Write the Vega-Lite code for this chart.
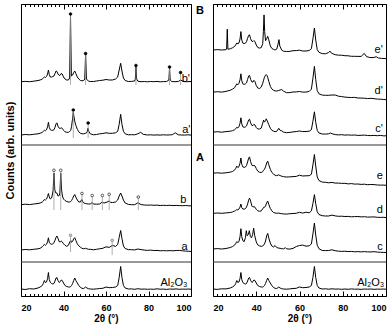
{
"$schema": "https://vega.github.io/schema/vega-lite/v6.json",
"padding": {"left": 3, "top": 3, "right": 4, "bottom": 4},
"bounds": "flush",
"spacing": 22,
"config": {"view": {"stroke": "#000", "strokeWidth": 1}, "font": "Liberation Sans", "axis": {"minExtent": 0, "domain": false, "grid": false, "tickColor": "#000", "labelColor": "#000", "titleColor": "#000"}},
"datasets": {
"L": [
{"s":"Al","x":20,"y":7},{"s":"Al","x":22,"y":6.5},{"s":"Al","x":24,"y":7.3},{"s":"Al","x":26,"y":7},{"s":"Al","x":28,"y":8},{"s":"Al","x":29,"y":9},{"s":"Al","x":30,"y":10.5},{"s":"Al","x":30.5,"y":12.5},{"s":"Al","x":31,"y":15.5},{"s":"Al","x":31.5,"y":13.5},{"s":"Al","x":32,"y":14},{"s":"Al","x":32.5,"y":17.5},{"s":"Al","x":32.9,"y":23.5},{"s":"Al","x":33.3,"y":16.5},{"s":"Al","x":33.8,"y":13.5},{"s":"Al","x":34.4,"y":12.5},{"s":"Al","x":35,"y":12},{"s":"Al","x":35.5,"y":12.5},{"s":"Al","x":36,"y":15},{"s":"Al","x":36.5,"y":18},{"s":"Al","x":36.9,"y":18.5},{"s":"Al","x":37.4,"y":15.5},{"s":"Al","x":38,"y":13.5},{"s":"Al","x":38.5,"y":14.5},{"s":"Al","x":38.9,"y":16},{"s":"Al","x":39.4,"y":15.5},{"s":"Al","x":40,"y":13},{"s":"Al","x":40.7,"y":10.5},{"s":"Al","x":41.5,"y":9.5},{"s":"Al","x":42.3,"y":9},{"s":"Al","x":43,"y":9},{"s":"Al","x":43.4,"y":9.5},{"s":"Al","x":43.8,"y":10.5},{"s":"Al","x":44.3,"y":12.5},{"s":"Al","x":44.8,"y":15.5},{"s":"Al","x":45.3,"y":18},{"s":"Al","x":45.8,"y":15.5},{"s":"Al","x":46.5,"y":13},{"s":"Al","x":47.2,"y":10.5},{"s":"Al","x":48,"y":8.5},{"s":"Al","x":48.7,"y":7.7},{"s":"Al","x":49.5,"y":7.5},{"s":"Al","x":50.4,"y":9},{"s":"Al","x":51,"y":8},{"s":"Al","x":51.8,"y":7.3},{"s":"Al","x":52.6,"y":7},{"s":"Al","x":54,"y":6.8},{"s":"Al","x":55.5,"y":7.1},{"s":"Al","x":57,"y":7.5},{"s":"Al","x":58.5,"y":7.7},{"s":"Al","x":60,"y":9},{"s":"Al","x":61.5,"y":8.3},{"s":"Al","x":63,"y":8.5},{"s":"Al","x":64.5,"y":9},{"s":"Al","x":65.5,"y":10.5},{"s":"Al","x":66.2,"y":18.5},{"s":"Al","x":66.9,"y":29.5},{"s":"Al","x":67.5,"y":18.5},{"s":"Al","x":68.2,"y":10.5},{"s":"Al","x":69,"y":8},{"s":"Al","x":70.5,"y":7},{"s":"Al","x":72,"y":7.1},{"s":"Al","x":73.5,"y":6.7},{"s":"Al","x":75,"y":7.3},{"s":"Al","x":76.5,"y":6.8},{"s":"Al","x":78,"y":7},{"s":"Al","x":79.5,"y":6.7},{"s":"Al","x":81,"y":6.9},{"s":"Al","x":82.5,"y":6.7},{"s":"Al","x":84,"y":7.2},{"s":"Al","x":85.5,"y":6.8},{"s":"Al","x":87,"y":6.9},{"s":"Al","x":88.5,"y":6.6},{"s":"Al","x":90,"y":7},{"s":"Al","x":91.5,"y":6.8},{"s":"Al","x":93,"y":7.1},{"s":"Al","x":94.5,"y":6.7},{"s":"Al","x":96,"y":6.9},{"s":"Al","x":97.5,"y":6.8},{"s":"Al","x":99,"y":7},{"s":"Al","x":100,"y":6.7},
{"s":"a","x":20,"y":46},{"s":"a","x":22,"y":46.5},{"s":"a","x":24,"y":46.2},{"s":"a","x":26,"y":46.7},{"s":"a","x":28,"y":47.2},{"s":"a","x":29,"y":47.7},{"s":"a","x":30,"y":49.2},{"s":"a","x":30.5,"y":50.2},{"s":"a","x":31,"y":51.7},{"s":"a","x":31.5,"y":50.7},{"s":"a","x":32,"y":51.7},{"s":"a","x":32.5,"y":54.2},{"s":"a","x":32.9,"y":58.2},{"s":"a","x":33.3,"y":53.7},{"s":"a","x":33.8,"y":52.2},{"s":"a","x":34.4,"y":51.7},{"s":"a","x":35,"y":52.2},{"s":"a","x":35.5,"y":53.2},{"s":"a","x":36,"y":55.7},{"s":"a","x":36.5,"y":58.7},{"s":"a","x":36.9,"y":60},{"s":"a","x":37.4,"y":57.7},{"s":"a","x":38,"y":54.2},{"s":"a","x":38.5,"y":54.2},{"s":"a","x":38.9,"y":55},{"s":"a","x":39.4,"y":54.2},{"s":"a","x":40,"y":52.2},{"s":"a","x":40.7,"y":50.7},{"s":"a","x":41.5,"y":49.7},{"s":"a","x":42.3,"y":50.7},{"s":"a","x":43,"y":54.2},{"s":"a","x":43.4,"y":55.7},{"s":"a","x":43.8,"y":53.7},{"s":"a","x":44.3,"y":54.7},{"s":"a","x":44.8,"y":57.2},{"s":"a","x":45.3,"y":58.3},{"s":"a","x":45.8,"y":55.7},{"s":"a","x":46.5,"y":52.2},{"s":"a","x":47.2,"y":50.2},{"s":"a","x":48,"y":48.7},{"s":"a","x":48.7,"y":47.7},{"s":"a","x":49.5,"y":47.2},{"s":"a","x":50.4,"y":47.7},{"s":"a","x":51,"y":47.2},{"s":"a","x":51.8,"y":46.7},{"s":"a","x":52.6,"y":46.7},{"s":"a","x":54,"y":46.2},{"s":"a","x":55.5,"y":46.7},{"s":"a","x":57,"y":47.2},{"s":"a","x":58.5,"y":47.7},{"s":"a","x":60,"y":49.2},{"s":"a","x":61.5,"y":48.6},{"s":"a","x":63,"y":50.6},{"s":"a","x":64.5,"y":49.6},{"s":"a","x":65.5,"y":51.5},{"s":"a","x":66.2,"y":58.5},{"s":"a","x":66.9,"y":65.5},{"s":"a","x":67.5,"y":57.5},{"s":"a","x":68.2,"y":50},{"s":"a","x":69,"y":47.5},{"s":"a","x":70.5,"y":46.4},{"s":"a","x":72,"y":46.3},{"s":"a","x":73.5,"y":46.1},{"s":"a","x":75,"y":47},{"s":"a","x":76.5,"y":46.4},{"s":"a","x":78,"y":45.9},{"s":"a","x":79.5,"y":45.6},{"s":"a","x":81,"y":45.9},{"s":"a","x":82.5,"y":45.5},{"s":"a","x":84,"y":45.6},{"s":"a","x":85.5,"y":45.2},{"s":"a","x":87,"y":45.4},{"s":"a","x":88.5,"y":45.2},{"s":"a","x":90,"y":45.4},{"s":"a","x":91.5,"y":45.2},{"s":"a","x":93,"y":45.5},{"s":"a","x":94.5,"y":45.6},{"s":"a","x":96,"y":45.2},{"s":"a","x":97.5,"y":44.9},{"s":"a","x":99,"y":44.7},{"s":"a","x":100,"y":44.6},
{"s":"b","x":20,"y":91.3},{"s":"b","x":22,"y":91.8},{"s":"b","x":24,"y":91.4},{"s":"b","x":26,"y":92},{"s":"b","x":28,"y":92.5},{"s":"b","x":29,"y":93},{"s":"b","x":30,"y":94},{"s":"b","x":30.5,"y":95},{"s":"b","x":31,"y":96.5},{"s":"b","x":31.5,"y":96},{"s":"b","x":32,"y":97},{"s":"b","x":32.5,"y":99.5},{"s":"b","x":32.9,"y":102.5},{"s":"b","x":33.3,"y":99},{"s":"b","x":33.8,"y":97},{"s":"b","x":34.4,"y":98},{"s":"b","x":35.1,"y":105},{"s":"b","x":35.5,"y":123},{"s":"b","x":35.9,"y":106},{"s":"b","x":36.4,"y":103},{"s":"b","x":36.9,"y":103},{"s":"b","x":37.4,"y":100},{"s":"b","x":38,"y":100.5},{"s":"b","x":38.3,"y":103},{"s":"b","x":38.7,"y":123},{"s":"b","x":39.1,"y":106},{"s":"b","x":39.5,"y":100},{"s":"b","x":40,"y":97},{"s":"b","x":40.7,"y":95.5},{"s":"b","x":41.5,"y":94.5},{"s":"b","x":42.3,"y":94},{"s":"b","x":43,"y":94},{"s":"b","x":43.4,"y":94.5},{"s":"b","x":43.8,"y":95.5},{"s":"b","x":44.3,"y":97.5},{"s":"b","x":44.8,"y":100},{"s":"b","x":45.3,"y":101.5},{"s":"b","x":45.8,"y":99},{"s":"b","x":46.5,"y":96},{"s":"b","x":47.2,"y":94},{"s":"b","x":48,"y":94},{"s":"b","x":48.4,"y":96},{"s":"b","x":48.7,"y":96.5},{"s":"b","x":49.1,"y":94},{"s":"b","x":49.5,"y":93},{"s":"b","x":50.4,"y":92.5},{"s":"b","x":51,"y":92.2},{"s":"b","x":51.8,"y":92},{"s":"b","x":52.6,"y":92},{"s":"b","x":53.5,"y":93.5},{"s":"b","x":54,"y":92},{"s":"b","x":55.5,"y":91.8},{"s":"b","x":57,"y":92},{"s":"b","x":58.3,"y":94},{"s":"b","x":59,"y":93},{"s":"b","x":60,"y":93.5},{"s":"b","x":61.5,"y":95},{"s":"b","x":62.3,"y":93.5},{"s":"b","x":63,"y":93.5},{"s":"b","x":64.5,"y":94},{"s":"b","x":65.5,"y":96},{"s":"b","x":66.2,"y":100},{"s":"b","x":66.9,"y":103},{"s":"b","x":67.5,"y":100},{"s":"b","x":68.2,"y":96},{"s":"b","x":69,"y":93},{"s":"b","x":70.5,"y":91.6},{"s":"b","x":72,"y":91.3},{"s":"b","x":73.5,"y":91.3},{"s":"b","x":75,"y":93.2},{"s":"b","x":76.5,"y":91.4},{"s":"b","x":78,"y":91},{"s":"b","x":79.5,"y":90.8},{"s":"b","x":81,"y":91},{"s":"b","x":82.5,"y":90.7},{"s":"b","x":84,"y":90.9},{"s":"b","x":85.5,"y":90.5},{"s":"b","x":87,"y":90.7},{"s":"b","x":88.5,"y":90.5},{"s":"b","x":90,"y":90.7},{"s":"b","x":91.5,"y":90.4},{"s":"b","x":93,"y":90.6},{"s":"b","x":94.5,"y":90.4},{"s":"b","x":96,"y":90.3},{"s":"b","x":97.5,"y":90.5},{"s":"b","x":99,"y":90.2},{"s":"b","x":100,"y":90.1},
{"s":"a1","x":20,"y":161},{"s":"a1","x":22,"y":161.5},{"s":"a1","x":24,"y":161.2},{"s":"a1","x":26,"y":161.7},{"s":"a1","x":28,"y":162.2},{"s":"a1","x":29,"y":162.7},{"s":"a1","x":30,"y":163.7},{"s":"a1","x":30.5,"y":164.7},{"s":"a1","x":31,"y":165.7},{"s":"a1","x":31.5,"y":165.2},{"s":"a1","x":32,"y":166.2},{"s":"a1","x":32.5,"y":169.2},{"s":"a1","x":32.9,"y":173.7},{"s":"a1","x":33.3,"y":168.7},{"s":"a1","x":33.8,"y":166.2},{"s":"a1","x":34.4,"y":165.7},{"s":"a1","x":35,"y":165.7},{"s":"a1","x":35.5,"y":166.2},{"s":"a1","x":36,"y":168.7},{"s":"a1","x":36.5,"y":172.2},{"s":"a1","x":36.9,"y":173.2},{"s":"a1","x":37.4,"y":169.7},{"s":"a1","x":38,"y":167.7},{"s":"a1","x":38.5,"y":167.7},{"s":"a1","x":38.9,"y":168.2},{"s":"a1","x":39.4,"y":167.7},{"s":"a1","x":40,"y":165.7},{"s":"a1","x":40.7,"y":164.2},{"s":"a1","x":41.5,"y":163.7},{"s":"a1","x":42.3,"y":163.7},{"s":"a1","x":43,"y":164.7},{"s":"a1","x":43.4,"y":165.7},{"s":"a1","x":43.8,"y":169.7},{"s":"a1","x":44.3,"y":177.7},{"s":"a1","x":44.6,"y":183.7},{"s":"a1","x":44.9,"y":179.7},{"s":"a1","x":45.3,"y":174.7},{"s":"a1","x":45.8,"y":170.7},{"s":"a1","x":46.5,"y":166.7},{"s":"a1","x":47.2,"y":164.2},{"s":"a1","x":48,"y":162.7},{"s":"a1","x":48.7,"y":162.2},{"s":"a1","x":49.5,"y":162.2},{"s":"a1","x":50.4,"y":162.7},{"s":"a1","x":51.1,"y":163.7},{"s":"a1","x":51.5,"y":167.7},{"s":"a1","x":51.9,"y":164.7},{"s":"a1","x":52.6,"y":162.2},{"s":"a1","x":54,"y":161.2},{"s":"a1","x":55.5,"y":161.5},{"s":"a1","x":57,"y":162.2},{"s":"a1","x":58.5,"y":162.5},{"s":"a1","x":60,"y":163.2},{"s":"a1","x":61.5,"y":162.7},{"s":"a1","x":63,"y":162.7},{"s":"a1","x":64.5,"y":163.2},{"s":"a1","x":65.5,"y":164.7},{"s":"a1","x":66.2,"y":171.7},{"s":"a1","x":66.9,"y":181.7},{"s":"a1","x":67.5,"y":171.7},{"s":"a1","x":68.2,"y":164.7},{"s":"a1","x":69,"y":162.2},{"s":"a1","x":70.5,"y":161.2},{"s":"a1","x":72,"y":161.3},{"s":"a1","x":73.5,"y":161.2},{"s":"a1","x":75,"y":162.2},{"s":"a1","x":76.3,"y":163.7},{"s":"a1","x":77.5,"y":161.7},{"s":"a1","x":79.5,"y":161},{"s":"a1","x":81,"y":161.2},{"s":"a1","x":82.5,"y":160.9},{"s":"a1","x":84,"y":161.1},{"s":"a1","x":85.5,"y":160.9},{"s":"a1","x":87,"y":161.2},{"s":"a1","x":88.5,"y":161},{"s":"a1","x":90,"y":161.1},{"s":"a1","x":91.2,"y":161.3},{"s":"a1","x":92.6,"y":163.2},{"s":"a1","x":94,"y":161.2},{"s":"a1","x":95.5,"y":161},{"s":"a1","x":97,"y":160.9},{"s":"a1","x":98.5,"y":161.2},{"s":"a1","x":100,"y":160.9},
{"s":"b1","x":20,"y":214.3},{"s":"b1","x":22,"y":214.6},{"s":"b1","x":24,"y":214.3},{"s":"b1","x":26,"y":214.8},{"s":"b1","x":28,"y":215.5},{"s":"b1","x":29,"y":216},{"s":"b1","x":30,"y":217},{"s":"b1","x":30.5,"y":218},{"s":"b1","x":31,"y":219},{"s":"b1","x":31.5,"y":218.5},{"s":"b1","x":32,"y":219.5},{"s":"b1","x":32.5,"y":222},{"s":"b1","x":32.9,"y":226},{"s":"b1","x":33.3,"y":221.5},{"s":"b1","x":33.8,"y":219},{"s":"b1","x":34.4,"y":219},{"s":"b1","x":35,"y":219.5},{"s":"b1","x":35.5,"y":220},{"s":"b1","x":36,"y":222.5},{"s":"b1","x":36.5,"y":225},{"s":"b1","x":36.9,"y":224.5},{"s":"b1","x":37.4,"y":222},{"s":"b1","x":38,"y":220.5},{"s":"b1","x":38.5,"y":221},{"s":"b1","x":38.9,"y":222.5},{"s":"b1","x":39.4,"y":222},{"s":"b1","x":40,"y":219},{"s":"b1","x":40.7,"y":217},{"s":"b1","x":41.5,"y":216},{"s":"b1","x":42.3,"y":216},{"s":"b1","x":42.9,"y":218},{"s":"b1","x":43.3,"y":281},{"s":"b1","x":43.7,"y":220},{"s":"b1","x":44.3,"y":221},{"s":"b1","x":44.8,"y":223.5},{"s":"b1","x":45.3,"y":225},{"s":"b1","x":45.8,"y":222.5},{"s":"b1","x":46.5,"y":219},{"s":"b1","x":47.2,"y":217},{"s":"b1","x":48,"y":215.5},{"s":"b1","x":48.7,"y":215.2},{"s":"b1","x":49.5,"y":215.5},{"s":"b1","x":50,"y":217},{"s":"b1","x":50.4,"y":241.7},{"s":"b1","x":50.8,"y":217},{"s":"b1","x":51.8,"y":214.8},{"s":"b1","x":52.6,"y":214.5},{"s":"b1","x":54,"y":214.5},{"s":"b1","x":55.5,"y":215},{"s":"b1","x":57,"y":215.5},{"s":"b1","x":58.5,"y":215.8},{"s":"b1","x":60,"y":216.5},{"s":"b1","x":61.5,"y":216},{"s":"b1","x":63,"y":216},{"s":"b1","x":64.5,"y":217},{"s":"b1","x":65.5,"y":219},{"s":"b1","x":66.2,"y":226},{"s":"b1","x":66.9,"y":232.7},{"s":"b1","x":67.5,"y":225},{"s":"b1","x":68.2,"y":218},{"s":"b1","x":69,"y":215.5},{"s":"b1","x":70.5,"y":214.5},{"s":"b1","x":72,"y":214.6},{"s":"b1","x":73.5,"y":215},{"s":"b1","x":73.8,"y":217},{"s":"b1","x":74.1,"y":229.7},{"s":"b1","x":74.4,"y":217},{"s":"b1","x":75,"y":214.8},{"s":"b1","x":76.5,"y":214.3},{"s":"b1","x":78,"y":214.5},{"s":"b1","x":79.5,"y":214.2},{"s":"b1","x":81,"y":214.5},{"s":"b1","x":82.5,"y":214.3},{"s":"b1","x":84,"y":214.6},{"s":"b1","x":85.5,"y":214.2},{"s":"b1","x":87,"y":214.4},{"s":"b1","x":88.5,"y":214.5},{"s":"b1","x":89.6,"y":216},{"s":"b1","x":89.9,"y":228.3},{"s":"b1","x":90.2,"y":216},{"s":"b1","x":91,"y":214.4},{"s":"b1","x":92.5,"y":214.3},{"s":"b1","x":94,"y":214.5},{"s":"b1","x":95.1,"y":216},{"s":"b1","x":96.5,"y":214.4},{"s":"b1","x":98,"y":214.3},{"s":"b1","x":100,"y":214.5}
],
"R": [
{"s":"Al","x":20,"y":7},{"s":"Al","x":22,"y":6.6},{"s":"Al","x":24,"y":7.2},{"s":"Al","x":26,"y":7.1},{"s":"Al","x":28,"y":8},{"s":"Al","x":29,"y":9},{"s":"Al","x":30,"y":10.5},{"s":"Al","x":30.5,"y":12.5},{"s":"Al","x":31,"y":15.5},{"s":"Al","x":31.5,"y":13.5},{"s":"Al","x":32,"y":14},{"s":"Al","x":32.5,"y":17.5},{"s":"Al","x":32.9,"y":23.5},{"s":"Al","x":33.3,"y":16.5},{"s":"Al","x":33.8,"y":13.5},{"s":"Al","x":34.4,"y":12.5},{"s":"Al","x":35,"y":12},{"s":"Al","x":35.5,"y":12.5},{"s":"Al","x":36,"y":15},{"s":"Al","x":36.5,"y":18},{"s":"Al","x":36.9,"y":18.5},{"s":"Al","x":37.4,"y":15.5},{"s":"Al","x":38,"y":13.5},{"s":"Al","x":38.5,"y":14.5},{"s":"Al","x":38.9,"y":16},{"s":"Al","x":39.4,"y":15.5},{"s":"Al","x":40,"y":13},{"s":"Al","x":40.7,"y":10.5},{"s":"Al","x":41.5,"y":9.5},{"s":"Al","x":42.3,"y":9},{"s":"Al","x":43,"y":9},{"s":"Al","x":43.4,"y":9.5},{"s":"Al","x":43.8,"y":10.5},{"s":"Al","x":44.3,"y":12.5},{"s":"Al","x":44.8,"y":15.5},{"s":"Al","x":45.3,"y":18},{"s":"Al","x":45.8,"y":15.5},{"s":"Al","x":46.5,"y":13},{"s":"Al","x":47.2,"y":10.5},{"s":"Al","x":48,"y":8.5},{"s":"Al","x":48.7,"y":7.7},{"s":"Al","x":49.5,"y":7.5},{"s":"Al","x":50.4,"y":9},{"s":"Al","x":51,"y":8},{"s":"Al","x":51.8,"y":7.3},{"s":"Al","x":52.6,"y":7},{"s":"Al","x":54,"y":6.8},{"s":"Al","x":55.5,"y":7.1},{"s":"Al","x":57,"y":7.5},{"s":"Al","x":58.5,"y":7.7},{"s":"Al","x":60,"y":9},{"s":"Al","x":61.5,"y":8.3},{"s":"Al","x":63,"y":8.5},{"s":"Al","x":64.5,"y":9},{"s":"Al","x":65.5,"y":10.5},{"s":"Al","x":66.2,"y":18.5},{"s":"Al","x":66.9,"y":29.5},{"s":"Al","x":67.5,"y":18.5},{"s":"Al","x":68.2,"y":10.5},{"s":"Al","x":69,"y":8},{"s":"Al","x":70.5,"y":7},{"s":"Al","x":72,"y":7.2},{"s":"Al","x":73.5,"y":6.8},{"s":"Al","x":75,"y":7.2},{"s":"Al","x":76.5,"y":6.9},{"s":"Al","x":78,"y":7},{"s":"Al","x":79.5,"y":6.7},{"s":"Al","x":81,"y":7},{"s":"Al","x":82.5,"y":6.7},{"s":"Al","x":84,"y":7.1},{"s":"Al","x":85.5,"y":6.8},{"s":"Al","x":87,"y":6.9},{"s":"Al","x":88.5,"y":6.6},{"s":"Al","x":90,"y":7},{"s":"Al","x":91.5,"y":6.8},{"s":"Al","x":93,"y":7},{"s":"Al","x":94.5,"y":6.7},{"s":"Al","x":96,"y":6.9},{"s":"Al","x":97.5,"y":6.8},{"s":"Al","x":99,"y":7},{"s":"Al","x":100,"y":6.7},
{"s":"c","x":20,"y":47},{"s":"c","x":22,"y":47.4},{"s":"c","x":24,"y":47},{"s":"c","x":26,"y":47.5},{"s":"c","x":28,"y":48.5},{"s":"c","x":29,"y":49.4},{"s":"c","x":30,"y":50.9},{"s":"c","x":30.5,"y":52.4},{"s":"c","x":31,"y":54.4},{"s":"c","x":31.5,"y":53.4},{"s":"c","x":32,"y":54.4},{"s":"c","x":32.5,"y":59.3},{"s":"c","x":32.9,"y":67.3},{"s":"c","x":33.3,"y":59.3},{"s":"c","x":33.8,"y":55.3},{"s":"c","x":34.4,"y":54.3},{"s":"c","x":35,"y":58.3},{"s":"c","x":35.4,"y":65.3},{"s":"c","x":35.8,"y":60.3},{"s":"c","x":36.3,"y":61.3},{"s":"c","x":36.8,"y":65.3},{"s":"c","x":37.3,"y":59.3},{"s":"c","x":37.8,"y":58.2},{"s":"c","x":38.3,"y":61.2},{"s":"c","x":38.8,"y":67.8},{"s":"c","x":39.3,"y":60.2},{"s":"c","x":40,"y":54.1},{"s":"c","x":40.7,"y":51.1},{"s":"c","x":41.5,"y":50.1},{"s":"c","x":42.3,"y":49.6},{"s":"c","x":43,"y":50},{"s":"c","x":43.4,"y":51},{"s":"c","x":43.8,"y":52},{"s":"c","x":44.3,"y":55},{"s":"c","x":44.8,"y":60},{"s":"c","x":45.3,"y":62.6},{"s":"c","x":45.8,"y":58},{"s":"c","x":46.5,"y":53},{"s":"c","x":47.2,"y":50},{"s":"c","x":48,"y":49},{"s":"c","x":48.7,"y":50.5},{"s":"c","x":49.5,"y":48.4},{"s":"c","x":50.4,"y":47.9},{"s":"c","x":51,"y":47.7},{"s":"c","x":51.8,"y":47.3},{"s":"c","x":52.6,"y":47.1},{"s":"c","x":53.5,"y":48.3},{"s":"c","x":54,"y":47.2},{"s":"c","x":55.5,"y":46.9},{"s":"c","x":57,"y":47.6},{"s":"c","x":58.5,"y":49.5},{"s":"c","x":60,"y":50.5},{"s":"c","x":61.5,"y":50.9},{"s":"c","x":63,"y":49.8},{"s":"c","x":64.5,"y":50.2},{"s":"c","x":65.5,"y":52},{"s":"c","x":66.2,"y":62},{"s":"c","x":66.9,"y":73},{"s":"c","x":67.5,"y":60.9},{"s":"c","x":68.2,"y":50.8},{"s":"c","x":69,"y":47.3},{"s":"c","x":70.5,"y":45.5},{"s":"c","x":72,"y":45.4},{"s":"c","x":73.5,"y":45.5},{"s":"c","x":75,"y":46.2},{"s":"c","x":76.5,"y":45.3},{"s":"c","x":78,"y":44.8},{"s":"c","x":79.5,"y":44.6},{"s":"c","x":81,"y":44.8},{"s":"c","x":82.5,"y":44.4},{"s":"c","x":84,"y":44.6},{"s":"c","x":85.5,"y":44.2},{"s":"c","x":87,"y":44.4},{"s":"c","x":88.5,"y":44.1},{"s":"c","x":90,"y":44.4},{"s":"c","x":91.5,"y":44.1},{"s":"c","x":93,"y":44.1},{"s":"c","x":94.5,"y":44.3},{"s":"c","x":96,"y":43.9},{"s":"c","x":97.5,"y":43.7},{"s":"c","x":99,"y":43.6},{"s":"c","x":100,"y":43.5},
{"s":"d","x":20,"y":82.6},{"s":"d","x":22,"y":83},{"s":"d","x":24,"y":82.7},{"s":"d","x":26,"y":83.1},{"s":"d","x":28,"y":83.5},{"s":"d","x":29,"y":84},{"s":"d","x":30,"y":85},{"s":"d","x":30.5,"y":85.5},{"s":"d","x":31,"y":86.5},{"s":"d","x":31.5,"y":86},{"s":"d","x":32,"y":87},{"s":"d","x":32.5,"y":88.9},{"s":"d","x":32.9,"y":91.9},{"s":"d","x":33.3,"y":88.4},{"s":"d","x":33.8,"y":86.9},{"s":"d","x":34.4,"y":86.9},{"s":"d","x":35,"y":87.4},{"s":"d","x":35.5,"y":88.9},{"s":"d","x":36,"y":91.9},{"s":"d","x":36.5,"y":95.9},{"s":"d","x":36.9,"y":97.9},{"s":"d","x":37.4,"y":94.9},{"s":"d","x":38,"y":89.9},{"s":"d","x":38.5,"y":88.8},{"s":"d","x":38.9,"y":89.5},{"s":"d","x":39.4,"y":88.8},{"s":"d","x":40,"y":86.7},{"s":"d","x":40.7,"y":85.2},{"s":"d","x":41.5,"y":84.7},{"s":"d","x":42.3,"y":85.1},{"s":"d","x":43,"y":87.1},{"s":"d","x":43.4,"y":88.6},{"s":"d","x":43.8,"y":88.6},{"s":"d","x":44.3,"y":90.1},{"s":"d","x":44.8,"y":93.1},{"s":"d","x":45.3,"y":95},{"s":"d","x":45.8,"y":91.6},{"s":"d","x":46.5,"y":87.6},{"s":"d","x":47.2,"y":85.1},{"s":"d","x":48,"y":83.5},{"s":"d","x":48.7,"y":83},{"s":"d","x":49.5,"y":82.7},{"s":"d","x":50.4,"y":83},{"s":"d","x":51,"y":82.5},{"s":"d","x":51.8,"y":82.3},{"s":"d","x":52.6,"y":82.1},{"s":"d","x":54,"y":81.9},{"s":"d","x":55.5,"y":82.3},{"s":"d","x":57,"y":82.5},{"s":"d","x":58.5,"y":82.7},{"s":"d","x":60,"y":83.7},{"s":"d","x":61.5,"y":82.9},{"s":"d","x":63,"y":83.8},{"s":"d","x":64.5,"y":83.2},{"s":"d","x":65.5,"y":85.1},{"s":"d","x":66.2,"y":92.5},{"s":"d","x":66.9,"y":101.4},{"s":"d","x":67.5,"y":92.3},{"s":"d","x":68.2,"y":84.2},{"s":"d","x":69,"y":81.5},{"s":"d","x":70.5,"y":80.3},{"s":"d","x":72,"y":80},{"s":"d","x":73.5,"y":80},{"s":"d","x":75,"y":80.9},{"s":"d","x":76.5,"y":80.1},{"s":"d","x":78,"y":79.7},{"s":"d","x":79.5,"y":79.8},{"s":"d","x":81,"y":79.5},{"s":"d","x":82.5,"y":79.6},{"s":"d","x":84,"y":79.2},{"s":"d","x":85.5,"y":79.4},{"s":"d","x":87,"y":79.5},{"s":"d","x":88.5,"y":79.1},{"s":"d","x":90,"y":79.3},{"s":"d","x":91.5,"y":78.9},{"s":"d","x":93,"y":79},{"s":"d","x":94.5,"y":79.1},{"s":"d","x":96,"y":78.7},{"s":"d","x":97.5,"y":78.6},{"s":"d","x":99,"y":78.7},{"s":"d","x":100,"y":78.4},
{"s":"e","x":20,"y":122.8},{"s":"e","x":22,"y":123.2},{"s":"e","x":24,"y":122.8},{"s":"e","x":26,"y":123.2},{"s":"e","x":28,"y":123.9},{"s":"e","x":29,"y":124.5},{"s":"e","x":30,"y":126},{"s":"e","x":30.5,"y":127.5},{"s":"e","x":31,"y":129.9},{"s":"e","x":31.5,"y":128.4},{"s":"e","x":32,"y":129.3},{"s":"e","x":32.5,"y":132.8},{"s":"e","x":32.9,"y":138},{"s":"e","x":33.3,"y":131.7},{"s":"e","x":33.8,"y":129.1},{"s":"e","x":34.4,"y":128.6},{"s":"e","x":35,"y":129},{"s":"e","x":35.5,"y":130.5},{"s":"e","x":36,"y":134},{"s":"e","x":36.5,"y":137.9},{"s":"e","x":36.9,"y":139.1},{"s":"e","x":37.4,"y":134.3},{"s":"e","x":38,"y":130.7},{"s":"e","x":38.5,"y":130.2},{"s":"e","x":38.9,"y":130.6},{"s":"e","x":39.4,"y":130.1},{"s":"e","x":40,"y":127.5},{"s":"e","x":40.7,"y":124.9},{"s":"e","x":41.5,"y":123.7},{"s":"e","x":42.3,"y":123.5},{"s":"e","x":43,"y":124.4},{"s":"e","x":43.4,"y":125.8},{"s":"e","x":43.8,"y":126.7},{"s":"e","x":44.3,"y":129.1},{"s":"e","x":44.8,"y":133},{"s":"e","x":45.3,"y":134.9},{"s":"e","x":45.8,"y":131.3},{"s":"e","x":46.5,"y":126.7},{"s":"e","x":47.2,"y":123.6},{"s":"e","x":48,"y":121.9},{"s":"e","x":48.7,"y":120.8},{"s":"e","x":49.5,"y":120.3},{"s":"e","x":50.4,"y":121.2},{"s":"e","x":51,"y":120.4},{"s":"e","x":51.8,"y":119.8},{"s":"e","x":52.6,"y":119.3},{"s":"e","x":54,"y":119},{"s":"e","x":55.5,"y":119.1},{"s":"e","x":57,"y":119.4},{"s":"e","x":58.5,"y":119.6},{"s":"e","x":60,"y":120.8},{"s":"e","x":61.5,"y":120},{"s":"e","x":63,"y":120.2},{"s":"e","x":64.5,"y":120.3},{"s":"e","x":65.5,"y":121.7},{"s":"e","x":66.2,"y":131},{"s":"e","x":66.9,"y":141.5},{"s":"e","x":67.5,"y":130},{"s":"e","x":68.2,"y":119},{"s":"e","x":69,"y":115.5},{"s":"e","x":70.5,"y":113.9},{"s":"e","x":72,"y":113.7},{"s":"e","x":73.5,"y":113.2},{"s":"e","x":75,"y":113.6},{"s":"e","x":76.5,"y":112.9},{"s":"e","x":78,"y":112.9},{"s":"e","x":79.5,"y":112.6},{"s":"e","x":81,"y":112.7},{"s":"e","x":82.5,"y":112.1},{"s":"e","x":84,"y":112.4},{"s":"e","x":85.5,"y":111.9},{"s":"e","x":87,"y":112},{"s":"e","x":88.5,"y":111.6},{"s":"e","x":90,"y":111.8},{"s":"e","x":91.5,"y":111.3},{"s":"e","x":93,"y":111.5},{"s":"e","x":94.5,"y":111.4},{"s":"e","x":96,"y":111},{"s":"e","x":97.5,"y":110.9},{"s":"e","x":99,"y":110.9},{"s":"e","x":100,"y":110.7},
{"s":"c1","x":20,"y":163.8},{"s":"c1","x":22,"y":164.3},{"s":"c1","x":24,"y":163.8},{"s":"c1","x":26,"y":164.4},{"s":"c1","x":28,"y":164.8},{"s":"c1","x":29,"y":165.3},{"s":"c1","x":30,"y":166.3},{"s":"c1","x":30.5,"y":167.2},{"s":"c1","x":31,"y":168.7},{"s":"c1","x":31.5,"y":168.2},{"s":"c1","x":32,"y":169.2},{"s":"c1","x":32.5,"y":172.7},{"s":"c1","x":32.9,"y":178.2},{"s":"c1","x":33.3,"y":172.2},{"s":"c1","x":33.8,"y":169.2},{"s":"c1","x":34.4,"y":168.7},{"s":"c1","x":35,"y":169.1},{"s":"c1","x":35.5,"y":170.1},{"s":"c1","x":36,"y":173.1},{"s":"c1","x":36.5,"y":176.1},{"s":"c1","x":36.9,"y":176.8},{"s":"c1","x":37.4,"y":173.1},{"s":"c1","x":38,"y":170.5},{"s":"c1","x":38.5,"y":170.5},{"s":"c1","x":38.9,"y":171.7},{"s":"c1","x":39.4,"y":171},{"s":"c1","x":40,"y":168.5},{"s":"c1","x":40.7,"y":167},{"s":"c1","x":41.5,"y":167},{"s":"c1","x":42.3,"y":167.9},{"s":"c1","x":43,"y":172.9},{"s":"c1","x":43.4,"y":175.9},{"s":"c1","x":43.8,"y":173.9},{"s":"c1","x":44.3,"y":175.4},{"s":"c1","x":44.6,"y":177.2},{"s":"c1","x":44.9,"y":175.9},{"s":"c1","x":45.3,"y":173.9},{"s":"c1","x":45.8,"y":171.4},{"s":"c1","x":46.5,"y":167.8},{"s":"c1","x":47.2,"y":165.8},{"s":"c1","x":48,"y":164.8},{"s":"c1","x":48.7,"y":164.3},{"s":"c1","x":49.5,"y":164.7},{"s":"c1","x":50.4,"y":167.7},{"s":"c1","x":51,"y":165.7},{"s":"c1","x":51.8,"y":165.2},{"s":"c1","x":52.6,"y":163.9},{"s":"c1","x":54,"y":163.3},{"s":"c1","x":55.5,"y":163.6},{"s":"c1","x":57,"y":164.1},{"s":"c1","x":58.5,"y":164.4},{"s":"c1","x":60,"y":165},{"s":"c1","x":61.5,"y":164.4},{"s":"c1","x":63,"y":164.5},{"s":"c1","x":64.5,"y":164.8},{"s":"c1","x":65.5,"y":166.4},{"s":"c1","x":66.2,"y":174.8},{"s":"c1","x":66.9,"y":184.2},{"s":"c1","x":67.5,"y":173.7},{"s":"c1","x":68.2,"y":165.6},{"s":"c1","x":69,"y":163},{"s":"c1","x":70.5,"y":162},{"s":"c1","x":72,"y":161.9},{"s":"c1","x":73.5,"y":162.2},{"s":"c1","x":74.2,"y":163},{"s":"c1","x":75,"y":162.3},{"s":"c1","x":76.5,"y":161.4},{"s":"c1","x":78,"y":161.1},{"s":"c1","x":79.5,"y":161.3},{"s":"c1","x":81,"y":160.9},{"s":"c1","x":82.5,"y":161.1},{"s":"c1","x":84,"y":160.8},{"s":"c1","x":85.5,"y":161},{"s":"c1","x":87,"y":160.6},{"s":"c1","x":88.5,"y":160.7},{"s":"c1","x":90,"y":160.9},{"s":"c1","x":91.5,"y":160.5},{"s":"c1","x":93,"y":160.4},{"s":"c1","x":94.5,"y":160.6},{"s":"c1","x":96,"y":160.3},{"s":"c1","x":97.5,"y":160.6},{"s":"c1","x":99,"y":160.1},{"s":"c1","x":100,"y":160.2},
{"s":"d1","x":20,"y":203.8},{"s":"d1","x":22,"y":204.3},{"s":"d1","x":24,"y":203.9},{"s":"d1","x":26,"y":204.6},{"s":"d1","x":28,"y":205.8},{"s":"d1","x":29,"y":206.8},{"s":"d1","x":30,"y":208.3},{"s":"d1","x":30.5,"y":210.3},{"s":"d1","x":31,"y":212.2},{"s":"d1","x":31.5,"y":211.2},{"s":"d1","x":32,"y":212.7},{"s":"d1","x":32.5,"y":216.2},{"s":"d1","x":32.9,"y":222.2},{"s":"d1","x":33.3,"y":215.2},{"s":"d1","x":33.8,"y":212.2},{"s":"d1","x":34.4,"y":211.6},{"s":"d1","x":35,"y":212.1},{"s":"d1","x":35.5,"y":213.1},{"s":"d1","x":36,"y":216.6},{"s":"d1","x":36.5,"y":220.1},{"s":"d1","x":36.9,"y":220.6},{"s":"d1","x":37.4,"y":216.6},{"s":"d1","x":38,"y":214},{"s":"d1","x":38.5,"y":214},{"s":"d1","x":38.9,"y":215.7},{"s":"d1","x":39.4,"y":214.5},{"s":"d1","x":40,"y":210.5},{"s":"d1","x":40.7,"y":208},{"s":"d1","x":41.5,"y":207.4},{"s":"d1","x":42.3,"y":208.9},{"s":"d1","x":43,"y":212.8},{"s":"d1","x":43.4,"y":215.8},{"s":"d1","x":43.8,"y":218.8},{"s":"d1","x":44.3,"y":220.8},{"s":"d1","x":44.6,"y":221.5},{"s":"d1","x":44.9,"y":220.8},{"s":"d1","x":45.3,"y":218.7},{"s":"d1","x":45.8,"y":214.7},{"s":"d1","x":46.5,"y":209.7},{"s":"d1","x":47.2,"y":207.1},{"s":"d1","x":48,"y":205.6},{"s":"d1","x":48.7,"y":205.1},{"s":"d1","x":49.5,"y":205},{"s":"d1","x":50.4,"y":205.5},{"s":"d1","x":51,"y":206},{"s":"d1","x":51.8,"y":206.4},{"s":"d1","x":52.6,"y":204.9},{"s":"d1","x":54,"y":203.3},{"s":"d1","x":55.5,"y":203.4},{"s":"d1","x":57,"y":204},{"s":"d1","x":58.5,"y":204.1},{"s":"d1","x":60,"y":204.5},{"s":"d1","x":61.5,"y":203.9},{"s":"d1","x":63,"y":203.9},{"s":"d1","x":64.5,"y":204.6},{"s":"d1","x":65.5,"y":206.9},{"s":"d1","x":66.2,"y":217.8},{"s":"d1","x":66.9,"y":229.6},{"s":"d1","x":67.5,"y":216.5},{"s":"d1","x":68.2,"y":205.4},{"s":"d1","x":69,"y":202.2},{"s":"d1","x":70.5,"y":200.9},{"s":"d1","x":72,"y":200.7},{"s":"d1","x":73.5,"y":200.7},{"s":"d1","x":75,"y":201},{"s":"d1","x":76.5,"y":201},{"s":"d1","x":78,"y":199.8},{"s":"d1","x":79.5,"y":199.4},{"s":"d1","x":81,"y":198.9},{"s":"d1","x":82.5,"y":198.6},{"s":"d1","x":84,"y":198.5},{"s":"d1","x":85.5,"y":198.6},{"s":"d1","x":87,"y":198},{"s":"d1","x":88.5,"y":197.9},{"s":"d1","x":90,"y":197.8},{"s":"d1","x":91.5,"y":197.4},{"s":"d1","x":93,"y":197.7},{"s":"d1","x":94.5,"y":197.3},{"s":"d1","x":96,"y":196.9},{"s":"d1","x":97.5,"y":196.8},{"s":"d1","x":99,"y":196.5},{"s":"d1","x":100,"y":196.3},
{"s":"e1","x":20,"y":246},{"s":"e1","x":22,"y":246.4},{"s":"e1","x":24,"y":246},{"s":"e1","x":26,"y":246.3},{"s":"e1","x":26.3,"y":246.8},{"s":"e1","x":26.6,"y":266.8},{"s":"e1","x":26.9,"y":246.8},{"s":"e1","x":28,"y":247.2},{"s":"e1","x":29,"y":248.2},{"s":"e1","x":30,"y":249.6},{"s":"e1","x":30.5,"y":251.1},{"s":"e1","x":31,"y":253.1},{"s":"e1","x":31.5,"y":252},{"s":"e1","x":32,"y":253},{"s":"e1","x":32.5,"y":257},{"s":"e1","x":32.9,"y":264.4},{"s":"e1","x":33.3,"y":255.9},{"s":"e1","x":33.8,"y":252.9},{"s":"e1","x":34.4,"y":252.4},{"s":"e1","x":35,"y":252.8},{"s":"e1","x":35.5,"y":254.3},{"s":"e1","x":36,"y":257.7},{"s":"e1","x":36.5,"y":260.7},{"s":"e1","x":36.9,"y":261.2},{"s":"e1","x":37.4,"y":257.2},{"s":"e1","x":38,"y":254.6},{"s":"e1","x":38.5,"y":254.6},{"s":"e1","x":38.9,"y":255.5},{"s":"e1","x":39.4,"y":254.5},{"s":"e1","x":40,"y":251},{"s":"e1","x":40.7,"y":248.5},{"s":"e1","x":41.5,"y":247.9},{"s":"e1","x":42.3,"y":248.4},{"s":"e1","x":43,"y":252.3},{"s":"e1","x":43.3,"y":264.3},{"s":"e1","x":43.6,"y":281.1},{"s":"e1","x":43.9,"y":264.3},{"s":"e1","x":44.3,"y":255.3},{"s":"e1","x":44.8,"y":257.2},{"s":"e1","x":45.3,"y":259.7},{"s":"e1","x":45.8,"y":256.2},{"s":"e1","x":46.5,"y":250.1},{"s":"e1","x":47.2,"y":247.6},{"s":"e1","x":48,"y":246.6},{"s":"e1","x":48.7,"y":246},{"s":"e1","x":49.5,"y":247},{"s":"e1","x":50.1,"y":252},{"s":"e1","x":50.5,"y":256.4},{"s":"e1","x":50.9,"y":249.9},{"s":"e1","x":51.8,"y":245.8},{"s":"e1","x":52.6,"y":244.8},{"s":"e1","x":54,"y":244.5},{"s":"e1","x":55.5,"y":244.6},{"s":"e1","x":57,"y":245.3},{"s":"e1","x":58.5,"y":245.4},{"s":"e1","x":60,"y":245.8},{"s":"e1","x":61.5,"y":245},{"s":"e1","x":63,"y":245},{"s":"e1","x":64.5,"y":245.5},{"s":"e1","x":65.5,"y":247.3},{"s":"e1","x":66.2,"y":257.2},{"s":"e1","x":66.9,"y":268},{"s":"e1","x":67.5,"y":256},{"s":"e1","x":68.2,"y":246.3},{"s":"e1","x":69,"y":243.7},{"s":"e1","x":70.5,"y":242.4},{"s":"e1","x":72,"y":242.2},{"s":"e1","x":73.5,"y":243.5},{"s":"e1","x":74.1,"y":244.9},{"s":"e1","x":74.8,"y":242.8},{"s":"e1","x":76.5,"y":241.3},{"s":"e1","x":78,"y":240.8},{"s":"e1","x":79.5,"y":240.8},{"s":"e1","x":81,"y":240.3},{"s":"e1","x":82.5,"y":240.2},{"s":"e1","x":84,"y":239.7},{"s":"e1","x":85.5,"y":239.7},{"s":"e1","x":87,"y":239.6},{"s":"e1","x":88.5,"y":239.6},{"s":"e1","x":89.9,"y":242.6},{"s":"e1","x":91,"y":239.4},{"s":"e1","x":92.5,"y":238.5},{"s":"e1","x":94,"y":238.4},{"s":"e1","x":95.5,"y":239.2},{"s":"e1","x":96.5,"y":238},{"s":"e1","x":98,"y":237.6},{"s":"e1","x":100,"y":237.4}
],
"LM": [
{"m":"CuO","x":35.5,"y":125.7,"y2":86},{"m":"CuO","x":38.7,"y":125.7,"y2":86},{"m":"CuO","x":48.7,"y":102.5,"y2":86},{"m":"CuO","x":53.5,"y":100.5,"y2":86},{"m":"CuO","x":58.3,"y":100.5,"y2":86},{"m":"CuO","x":61.5,"y":101.7,"y2":86},{"m":"CuO","x":75.2,"y":99,"y2":86},
{"m":"NiO","x":43.3,"y":60.7,"y2":44},{"m":"NiO","x":62.9,"y":55.7,"y2":41},
{"m":"Ni","x":44.6,"y":186,"y2":158},{"m":"Ni","x":51.6,"y":173,"y2":158},
{"m":"Cu","x":43.3,"y":282,"y2":211},{"m":"Cu","x":50.4,"y":242.5,"y2":211},{"m":"Cu","x":74.1,"y":230.5,"y2":211},{"m":"Cu","x":89.9,"y":229,"y2":211},{"m":"Cu","x":95.1,"y":223.5,"y2":211}
],
"LT": [
{"t":"b'","x":99.5,"y":217.5},{"t":"a'","x":99.7,"y":166.5},{"t":"b","x":97.8,"y":96},{"t":"a","x":98.4,"y":49},{"t":"Al₂O₃","x":98.4,"y":13}
],
"RT": [
{"t":"e'","x":98.5,"y":246},{"t":"d'","x":98.5,"y":205},{"t":"c'","x":98.5,"y":167.5},{"t":"e","x":98.5,"y":120},{"t":"d","x":98.5,"y":86.5},{"t":"c","x":98.5,"y":49.5},{"t":"Al₂O₃","x":99.2,"y":13}
],
"AB": [{"t":"B","x":14,"y":285},{"t":"A","x":14,"y":138.5}]
},
"hconcat": [
{
"width": 170, "height": 292,
"resolve": {"axis": {"x": "independent", "y": "independent"}},
"layer": [
{"data": {"name": "L"}, "mark": {"type": "line", "stroke": "#000", "strokeWidth": 1},
 "encoding": {
  "x": {"field": "x", "type": "quantitative", "scale": {"domain": [20, 100], "nice": false, "zero": false},
        "axis": {"orient": "bottom", "values": [20, 40, 60, 80, 100], "tickSize": -5, "labelFontSize": 9, "labelFontWeight": "bold", "labelPadding": 12, "title": "2θ (°)", "titleFontSize": 10, "titleFontWeight": "bold", "titlePadding": 1}},
  "y": {"field": "y", "type": "quantitative", "scale": {"domain": [0, 292], "nice": false, "zero": false},
        "axis": {"title": "Counts (arb. units)", "labels": false, "ticks": false, "titleFontSize": 11, "titleFontWeight": "bold", "titlePadding": 6}},
  "detail": {"field": "s"}}},
{"data": {"values": [{"y": 34}, {"y": 151}]}, "mark": {"type": "rule", "stroke": "#333", "strokeWidth": 1},
 "encoding": {"y": {"field": "y", "type": "quantitative", "axis": null}}},
{"data": {"name": "LM"}, "mark": {"type": "rule", "stroke": "#999", "strokeWidth": 0.8},
 "encoding": {"x": {"field": "x", "type": "quantitative", "axis": null}, "y": {"field": "y", "type": "quantitative", "axis": null}, "y2": {"field": "y2"}}},
{"data": {"name": "LM"}, "mark": {"type": "point", "shape": "circle", "filled": true, "strokeWidth": 0.8, "opacity": 1, "size": 7},
 "encoding": {"x": {"field": "x", "type": "quantitative", "axis": null}, "y": {"field": "y", "type": "quantitative", "axis": null},
  "fill": {"field": "m", "type": "nominal", "scale": {"domain": ["CuO", "NiO", "Cu", "Ni"], "range": ["#ffffff", "#cccccc", "#000000", "#000000"]}, "legend": null},
  "stroke": {"field": "m", "type": "nominal", "scale": {"domain": ["CuO", "NiO", "Cu", "Ni"], "range": ["#333333", "#888888", "#000000", "#000000"]}, "legend": null}}},
{"data": {"name": "LT"}, "mark": {"type": "text", "align": "right", "baseline": "middle", "fontSize": 11, "color": "#000"},
 "encoding": {"x": {"field": "x", "type": "quantitative", "axis": null}, "y": {"field": "y", "type": "quantitative", "axis": null}, "text": {"field": "t"}}},
{"data": {"values": []}, "mark": "point",
 "encoding": {"x": {"field": "x", "type": "quantitative", "axis": {"orient": "bottom", "values": [22,24,26,28,30,32,34,36,38,42,44,46,48,50,52,54,56,58,62,64,66,68,70,72,74,76,78,82,84,86,88,90,92,94,96,98], "tickSize": -2.5, "labels": false, "title": null}}}},
{"data": {"values": []}, "mark": "point",
 "encoding": {"x": {"field": "x", "type": "quantitative", "axis": {"orient": "top", "values": [20, 40, 60, 80, 100], "tickSize": -5, "labels": false, "title": null}}}},
{"data": {"values": []}, "mark": "point",
 "encoding": {"x": {"field": "x", "type": "quantitative", "axis": {"orient": "top", "values": [22,24,26,28,30,32,34,36,38,42,44,46,48,50,52,54,56,58,62,64,66,68,70,72,74,76,78,82,84,86,88,90,92,94,96,98], "tickSize": -2.5, "labels": false, "title": null}}}}
]
},
{
"width": 173, "height": 292,
"resolve": {"axis": {"x": "independent", "y": "independent"}},
"layer": [
{"data": {"name": "R"}, "mark": {"type": "line", "stroke": "#000", "strokeWidth": 1},
 "encoding": {
  "x": {"field": "x", "type": "quantitative", "scale": {"domain": [20, 100], "nice": false, "zero": false},
        "axis": {"orient": "bottom", "values": [20, 40, 60, 80, 100], "tickSize": -5, "labelFontSize": 9, "labelFontWeight": "bold", "labelPadding": 12, "title": "2θ (°)", "titleFontSize": 10, "titleFontWeight": "bold", "titlePadding": 1}},
  "y": {"field": "y", "type": "quantitative", "scale": {"domain": [0, 292], "nice": false, "zero": false}, "axis": null},
  "detail": {"field": "s"}}},
{"data": {"values": [{"y": 34}, {"y": 151}]}, "mark": {"type": "rule", "stroke": "#333", "strokeWidth": 1},
 "encoding": {"y": {"field": "y", "type": "quantitative", "axis": null}}},
{"data": {"name": "RT"}, "mark": {"type": "text", "align": "right", "baseline": "middle", "fontSize": 11, "color": "#000"},
 "encoding": {"x": {"field": "x", "type": "quantitative", "axis": null}, "y": {"field": "y", "type": "quantitative", "axis": null}, "text": {"field": "t"}}},
{"data": {"name": "AB"}, "mark": {"type": "text", "align": "center", "baseline": "middle", "fontSize": 11, "fontWeight": "bold", "color": "#000"},
 "encoding": {"x": {"field": "x", "type": "quantitative", "axis": null}, "y": {"field": "y", "type": "quantitative", "axis": null}, "text": {"field": "t"}}},
{"data": {"values": []}, "mark": "point",
 "encoding": {"x": {"field": "x", "type": "quantitative", "axis": {"orient": "bottom", "values": [22,24,26,28,30,32,34,36,38,42,44,46,48,50,52,54,56,58,62,64,66,68,70,72,74,76,78,82,84,86,88,90,92,94,96,98], "tickSize": -2.5, "labels": false, "title": null}}}},
{"data": {"values": []}, "mark": "point",
 "encoding": {"x": {"field": "x", "type": "quantitative", "axis": {"orient": "top", "values": [20, 40, 60, 80, 100], "tickSize": -5, "labels": false, "title": null}}}},
{"data": {"values": []}, "mark": "point",
 "encoding": {"x": {"field": "x", "type": "quantitative", "axis": {"orient": "top", "values": [22,24,26,28,30,32,34,36,38,42,44,46,48,50,52,54,56,58,62,64,66,68,70,72,74,76,78,82,84,86,88,90,92,94,96,98], "tickSize": -2.5, "labels": false, "title": null}}}}
]
}
]
}
